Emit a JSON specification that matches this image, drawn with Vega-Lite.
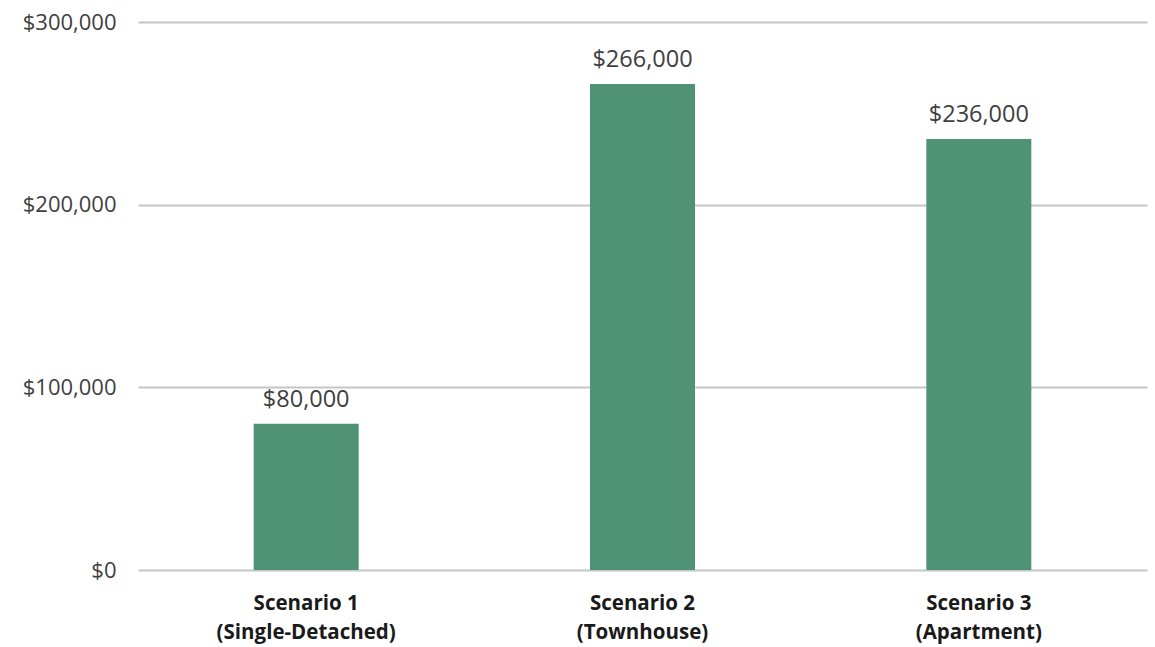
{
  "$schema": "https://vega.github.io/schema/vega-lite/v6.json",
  "width": 1009,
  "height": 548,
  "autosize": {"type": "none"},
  "padding": {"left": 138, "top": 22, "right": 8, "bottom": 77},
  "background": "white",
  "data": {"values": [
    {"scenario": "Scenario 1|(Single-Detached)", "value": 80000},
    {"scenario": "Scenario 2|(Townhouse)", "value": 266000},
    {"scenario": "Scenario 3|(Apartment)", "value": 236000}
  ]},
  "config": {"view": {"stroke": null}, "font": "Open Sans"},
  "encoding": {
    "x": {"field": "scenario", "type": "nominal", "sort": null,
      "scale": {"paddingInner": 0, "paddingOuter": 0},
      "axis": {"title": null, "labelAngle": 0, "domain": false, "ticks": false,
        "labelExpr": "split(datum.value, '|')", "labelFont": "Open Sans", "labelFontWeight": "bold",
        "labelFontSize": 20.5, "labelColor": "#1a1a1a", "labelPadding": 23, "labelLineHeight": 29}},
    "y": {"field": "value", "type": "quantitative",
      "scale": {"domain": [0, 300000], "nice": false},
      "axis": {"title": null, "values": [0, 100000, 200000, 300000], "format": "$,.0f",
        "domain": false, "ticks": false, "labelPadding": 22, "labelFontSize": 22,
        "labelColor": "#404040", "labelFont": "Open Sans",
        "gridColor": "#c6c6c6", "gridWidth": 2}}
  },
  "layer": [
    {"mark": {"type": "bar", "width": 105, "color": "#509276"}},
    {"mark": {"type": "text", "baseline": "bottom", "dy": -12, "fontSize": 23.5, "color": "#404040", "font": "Open Sans"},
      "encoding": {"text": {"field": "value", "type": "quantitative", "format": "$,.0f"}}}
  ]
}
